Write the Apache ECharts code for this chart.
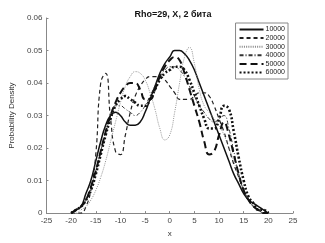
<!DOCTYPE html>
<html>
<head>
<meta charset="utf-8">
<script src="https://cdn.jsdelivr.net/npm/echarts@6/dist/echarts.min.js"></script>
<style>
  html, body { margin: 0; padding: 0; background: #fff; }
  #chart { width: 325px; height: 243px; }
</style>
</head>
<body>
<div id="chart"></div>
<script>
// x grid shared by all curves
const xs = [-20, -19, -18, -17, -16, -15, -14, -13, -12, -11, -10, -9, -8, -7, -6, -5, -4, -3, -2, -1,
  0, 1, 2, 3, 4, 5, 6, 7, 8, 9, 10, 11, 12, 13, 14, 15, 16, 17, 18, 19, 20];

const s10000 = [0, 0.001, 0.002, 0.006, 0.010, 0.016, 0.022, 0.027, 0.030, 0.031, 0.030, 0.028, 0.027, 0.027, 0.028, 0.031, 0.035, 0.039, 0.043, 0.046,
  0.048, 0.050, 0.050, 0.049, 0.047, 0.044, 0.040, 0.036, 0.032, 0.028, 0.024, 0.020, 0.016, 0.012, 0.009, 0.006, 0.004, 0.003, 0.002, 0.001, 0];
const s20000 = [0, 0, 0, 0.002, 0.007, 0.018, 0.040, 0.043, 0.029, 0.019, 0.018, 0.024, 0.031, 0.036, 0.039, 0.041, 0.042, 0.042, 0.042, 0.041,
  0.039, 0.037, 0.035, 0.035, 0.035, 0.036, 0.037, 0.037, 0.036, 0.033, 0.029, 0.025, 0.020, 0.015, 0.011, 0.007, 0.004, 0.002, 0.001, 0, 0];
const s30000 = [0, 0, 0.001, 0.002, 0.004, 0.007, 0.011, 0.016, 0.022, 0.028, 0.034, 0.039, 0.042, 0.0435, 0.043, 0.041, 0.037, 0.032, 0.026, 0.0225,
  0.024, 0.031, 0.040, 0.048, 0.051, 0.046, 0.038, 0.033, 0.031, 0.029, 0.027, 0.024, 0.020, 0.016, 0.011, 0.007, 0.004, 0.002, 0.001, 0, 0];
const s40000 = [0, 0.001, 0.002, 0.004, 0.008, 0.013, 0.019, 0.025, 0.030, 0.033, 0.033, 0.032, 0.031, 0.030, 0.031, 0.033, 0.036, 0.039, 0.042, 0.044,
  0.045, 0.045, 0.044, 0.042, 0.039, 0.036, 0.033, 0.031, 0.029, 0.028, 0.029, 0.030, 0.026, 0.019, 0.012, 0.007, 0.004, 0.002, 0.001, 0, 0];
const s50000 = [0, 0.001, 0.002, 0.004, 0.008, 0.013, 0.019, 0.025, 0.030, 0.034, 0.037, 0.039, 0.040, 0.040, 0.038, 0.035, 0.035, 0.038, 0.042, 0.045,
  0.047, 0.048, 0.047, 0.043, 0.038, 0.033, 0.028, 0.022, 0.018, 0.019, 0.024, 0.028, 0.024, 0.018, 0.012, 0.007, 0.004, 0.002, 0.001, 0, 0];
const s60000 = [0, 0.001, 0.002, 0.004, 0.007, 0.012, 0.018, 0.024, 0.029, 0.033, 0.035, 0.036, 0.035, 0.034, 0.033, 0.033, 0.035, 0.038, 0.041, 0.043,
  0.044, 0.045, 0.045, 0.044, 0.041, 0.037, 0.033, 0.029, 0.026, 0.026, 0.029, 0.033, 0.032, 0.025, 0.017, 0.010, 0.005, 0.003, 0.001, 0.001, 0];

const names = ['10000', '20000', '30000', '40000', '50000', '60000'];
const values = [s10000, s20000, s30000, s40000, s50000, s60000];
const styles = [
  { color: '#111', width: 1.5, type: 'solid' },
  { color: '#222', width: 1.2, type: [4, 3] },
  { color: '#888', width: 0.9, type: [1, 1.2] },
  { color: '#333', width: 1.0, type: [4, 2, 1, 2] },
  { color: '#111', width: 2.0, type: [7, 4] },
  { color: '#111', width: 2.6, type: [2, 2] },
];

const font = 'Liberation Sans, Arial, sans-serif';
const chart = echarts.init(document.getElementById('chart'));

const series = names.map((name, i) => ({
  name,
  type: 'line',
  smooth: true,
  symbol: 'none',
  color: styles[i].color,
  lineStyle: styles[i],
  data: xs.map((x, j) => [x, values[i][j]]),
}));

chart.setOption({
  animation: false,
  title: {
    text: 'Rho=29, X, 2 бита',
    left: 168,
    textAlign: 'center',
    top: 5,
    textStyle: { fontFamily: font, fontSize: 9, fontWeight: 'bold', color: '#111' },
  },
  grid: { left: 42, right: 32, top: 18, bottom: 28 },
  legend: {
    orient: 'vertical',
    right: 37,
    top: 23,
    padding: [3, 3, 3, 3],
    itemWidth: 24,
    itemHeight: 8,
    itemGap: 1.6,
    borderColor: '#888',
    borderWidth: 1,
    backgroundColor: '#fff',
    itemStyle: { color: 'transparent', borderColor: 'transparent', borderWidth: 0 },
    textStyle: { fontFamily: font, fontSize: 7, color: '#222', padding: [0, 0, 0, -3] },
    data: names,
  },
  xAxis: {
    type: 'value',
    min: -25,
    max: 25,
    interval: 5,
    name: 'x',
    nameLocation: 'middle',
    nameGap: 15,
    nameTextStyle: { fontFamily: font, fontSize: 8, color: '#333' },
    axisLine: { onZero: false, lineStyle: { color: '#888' } },
    axisTick: { inside: true, length: 2, lineStyle: { color: '#888' } },
    axisLabel: { fontFamily: font, fontSize: 8, color: '#444', margin: 4 },
    splitLine: { show: false },
  },
  yAxis: {
    type: 'value',
    min: 0,
    max: 0.06,
    interval: 0.01,
    name: 'Probability Density',
    nameLocation: 'middle',
    nameGap: 21,
    nameTextStyle: { fontFamily: font, fontSize: 8, color: '#333' },
    axisLine: { show: true, onZero: false, lineStyle: { color: '#888' } },
    axisTick: { show: true, inside: true, length: 2, lineStyle: { color: '#888' } },
    axisLabel: { fontFamily: font, fontSize: 8, color: '#444', margin: 4 },
    splitLine: { show: false },
  },
  series,
});
</script>
</body>
</html>
